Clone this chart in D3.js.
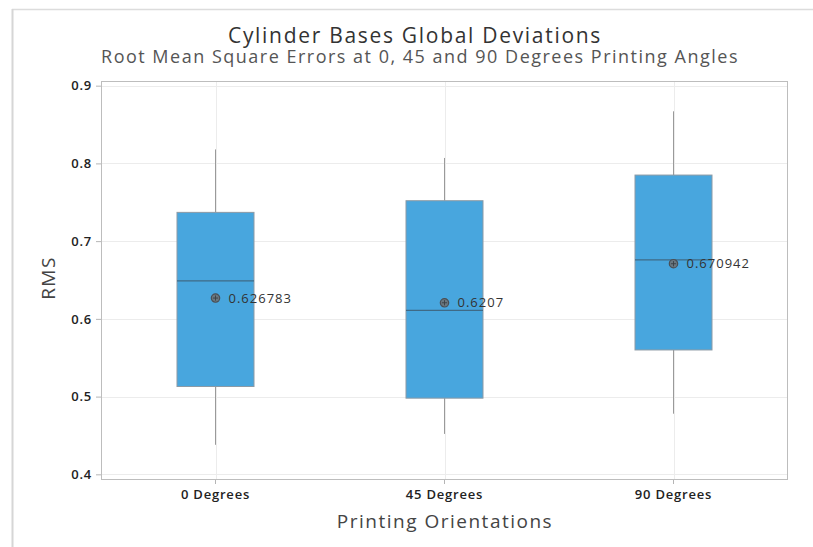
<!DOCTYPE html>
<html>
<head>
<meta charset="utf-8">
<script src="https://cdn.jsdelivr.net/npm/d3@7"></script>
<style>
  html, body { margin: 0; padding: 0; background: #fff; }
  svg { display: block; font-family: "Open Sans", "Noto Sans", sans-serif; }
</style>
</head>
<body>
<svg id="chart" width="813" height="547"></svg>
<script>
// Printing orientations and their RMS summary statistics
const categories = ["0 Degrees", "45 Degrees", "90 Degrees"];
const whiskerLow = [0.438, 0.452, 0.478];
const q1Values = [0.513, 0.498, 0.560];
const medians = [0.649, 0.611, 0.676];
const q3Values = [0.737, 0.752, 0.785];
const whiskerHigh = [0.818, 0.807, 0.867];
const means = [0.626783, 0.6207, 0.670942];
const meanLabels = ["0.626783", "0.6207", "0.670942"];
const yTicks = [0.4, 0.5, 0.6, 0.7, 0.8, 0.9];

const svg = d3.select("#chart");
const plot = { left: 101, right: 788, top: 81, bottom: 479 };

const x = d3.scaleBand().domain(categories).range([plot.left, plot.right]).padding(0);
const y = d3.scaleLinear().domain([0.394, 0.906]).range([plot.bottom, plot.top]);
const boxW = 77;

// outer panel frame
svg.append("line").attr("x1", 12).attr("x2", 813).attr("y1", 9.5).attr("y2", 9.5)
  .attr("stroke", "#dcdcdc").attr("stroke-width", 1.5);
svg.append("line").attr("x1", 12.5).attr("x2", 12.5).attr("y1", 9).attr("y2", 547)
  .attr("stroke", "#d6d6d6").attr("stroke-width", 2);

// gridlines
svg.append("g").selectAll("line").data(yTicks).join("line")
  .attr("x1", plot.left).attr("x2", plot.right)
  .attr("y1", d => Math.round(y(d)) + 0.5).attr("y2", d => Math.round(y(d)) + 0.5)
  .attr("stroke", "#ececec");
svg.append("g").selectAll("line").data(categories).join("line")
  .attr("x1", d => Math.round(x(d) + x.bandwidth() / 2) + 0.5)
  .attr("x2", d => Math.round(x(d) + x.bandwidth() / 2) + 0.5)
  .attr("y1", plot.top).attr("y2", plot.bottom)
  .attr("stroke", "#ececec");

// axes
const yAxis = svg.append("g").attr("transform", `translate(${plot.left},0)`)
  .call(d3.axisLeft(y).tickValues(yTicks).tickFormat(d3.format(".1f")).tickSize(5).tickPadding(4));
const xAxis = svg.append("g").attr("transform", `translate(0,${plot.bottom})`)
  .call(d3.axisBottom(x).tickSize(5).tickPadding(6));
[yAxis, xAxis].forEach(g => {
  g.select(".domain").remove();
  g.selectAll(".tick line").attr("stroke", "#b5b5b5");
  g.selectAll(".tick text").attr("fill", "#222").attr("font-size", 13)
    .attr("font-weight", 600).attr("font-family", "'Open Sans', sans-serif")
    .attr("letter-spacing", "0.8px");
});

// plot border
svg.append("rect").attr("x", plot.left + 0.5).attr("y", plot.top + 0.5)
  .attr("width", plot.right - plot.left - 1).attr("height", plot.bottom - plot.top)
  .attr("fill", "none").attr("stroke", "#bdbdbd");

// boxes
const boxes = svg.append("g").selectAll("g").data(categories).join("g")
  .attr("transform", d => `translate(${x(d) + x.bandwidth() / 2},0)`);

boxes.append("line").attr("x1", 0).attr("x2", 0)
  .attr("y1", (d, i) => y(whiskerHigh[i])).attr("y2", (d, i) => y(q3Values[i]))
  .attr("stroke", "#9a9a9a");
boxes.append("line").attr("x1", 0).attr("x2", 0)
  .attr("y1", (d, i) => y(q1Values[i])).attr("y2", (d, i) => y(whiskerLow[i]))
  .attr("stroke", "#9a9a9a");
boxes.append("rect")
  .attr("x", -boxW / 2).attr("width", boxW)
  .attr("y", (d, i) => y(q3Values[i]))
  .attr("height", (d, i) => y(q1Values[i]) - y(q3Values[i]))
  .attr("fill", "#48a6de").attr("stroke", "#8c9aa5").attr("stroke-width", 1);
boxes.append("line")
  .attr("x1", -boxW / 2).attr("x2", boxW / 2)
  .attr("y1", (d, i) => y(medians[i])).attr("y2", (d, i) => y(medians[i]))
  .attr("stroke", "#3f6a86").attr("stroke-width", 1.2);

// mean markers: circle with crosshair
boxes.append("circle").attr("cx", 0).attr("cy", (d, i) => y(means[i])).attr("r", 4.2)
  .attr("fill", "#6a7880").attr("stroke", "#4a4f55").attr("stroke-width", 1.2);
boxes.append("path")
  .attr("d", (d, i) => { const c = y(means[i]); return `M-2.6,${c}H2.6M0,${c - 2.6}V${c + 2.6}`; })
  .attr("stroke", "#3a3f44").attr("stroke-width", 0.9);
boxes.append("text")
  .attr("x", 13).attr("y", (d, i) => y(means[i]))
  .attr("dy", "0.35em")
  .attr("font-size", 13).attr("fill", "#333")
  .attr("font-family", "'Open Sans', sans-serif")
  .attr("letter-spacing", "1px")
  .text((d, i) => meanLabels[i]);

// titles
svg.append("text").attr("x", 415).attr("y", 43).attr("text-anchor", "middle")
  .attr("font-size", 21).attr("fill", "#333")
  .attr("letter-spacing", "1.7px")
  .attr("font-family", "'Open Sans', sans-serif")
  .text("Cylinder Bases Global Deviations");
svg.append("text").attr("x", 420).attr("y", 63).attr("text-anchor", "middle")
  .attr("font-size", 18).attr("fill", "#555")
  .attr("letter-spacing", "1.5px")
  .attr("font-family", "'Open Sans', sans-serif")
  .text("Root Mean Square Errors at 0, 45 and 90 Degrees Printing Angles");
svg.append("text").attr("x", 445).attr("y", 528).attr("text-anchor", "middle")
  .attr("font-size", 19).attr("fill", "#444")
  .attr("letter-spacing", "1.5px")
  .attr("font-family", "'Open Sans', sans-serif")
  .text("Printing Orientations");
svg.append("text").attr("transform", "translate(55,278) rotate(-90)").attr("text-anchor", "middle")
  .attr("font-size", 19).attr("fill", "#444")
  .attr("letter-spacing", "1.5px")
  .attr("font-family", "'Open Sans', sans-serif")
  .text("RMS");
</script>
</body>
</html>
